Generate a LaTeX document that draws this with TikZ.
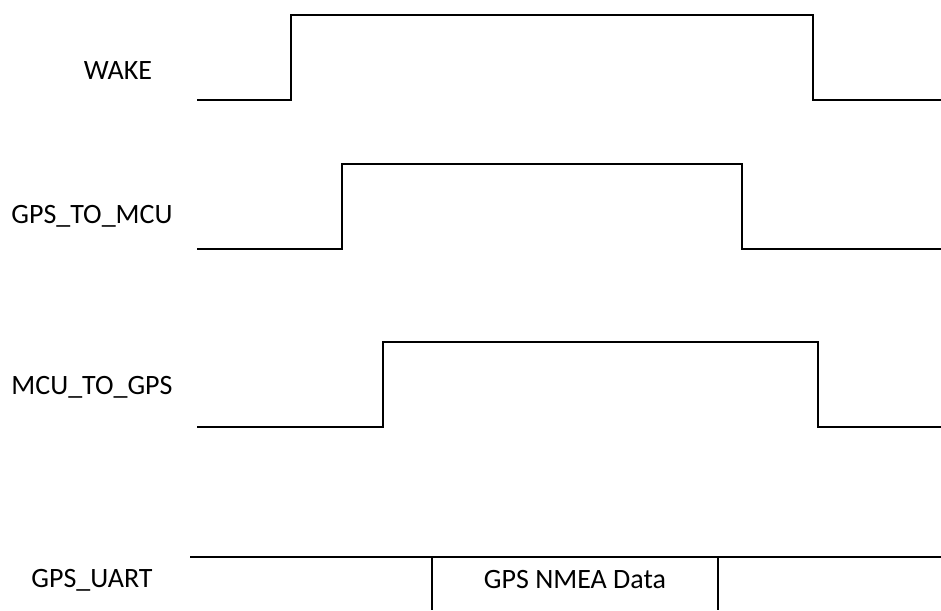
\documentclass[tikz,border=0pt]{standalone}
\usepackage{fontspec}
\setmainfont{Carlito}
\begin{document}
\begin{tikzpicture}[x=0.75pt,y=-0.75pt,
  wave/.style={line width=2.2pt,line join=miter},
  sig/.style={font=\fontsize{21}{24}\selectfont,inner sep=0pt},
  data/.style={font=\fontsize{21}{24}\selectfont,inner sep=0pt}]
\useasboundingbox (0,0) rectangle (941,610);
% labels
\node[sig] (lwake) at (118,71) {WAKE};
\node[sig] (lg2m) at (92,216) {GPS\_TO\_MCU};
\node[sig] (lm2g) at (92,387) {MCU\_TO\_GPS};
\node[sig] (luart) at (92,580) {GPS\_UART};
% WAKE
\draw[wave] (197,100) -- (291,100) -- (291,15) -- (813,15) -- (813,100) -- (941,100);
% GPS_TO_MCU
\draw[wave] (197,249) -- (342,249) -- (342,164) -- (742,164) -- (742,249) -- (941,249);
% MCU_TO_GPS
\draw[wave] (197,427) -- (383,427) -- (383,342) -- (818,342) -- (818,427) -- (941,427);
% GPS_UART
\draw[line width=1.5pt] (190,557) -- (941,557);
\draw[line width=1.5pt] (432,557) -- (432,610);
\draw[line width=1.5pt] (718,557) -- (718,610);
\node[data] (nmea) at (575,580) {GPS NMEA Data};
\end{tikzpicture}
\end{document}
